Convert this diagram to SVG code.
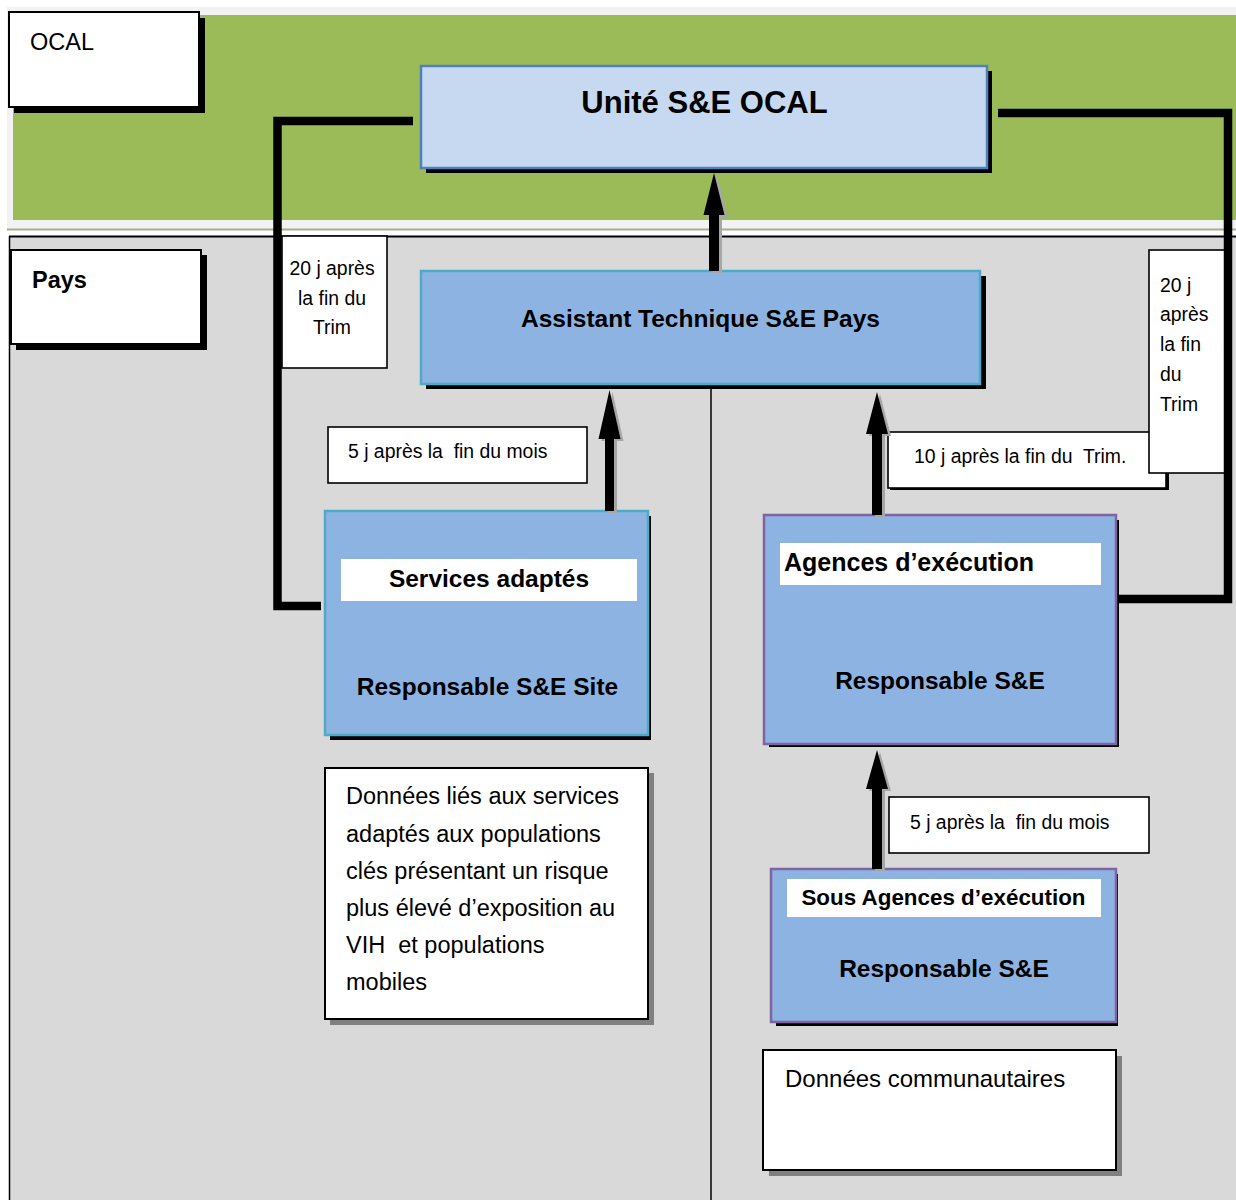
<svg xmlns="http://www.w3.org/2000/svg" width="1236" height="1200" viewBox="0 0 1236 1200">
<style>
text{font-family:"Liberation Sans",Arial,sans-serif;fill:#000;white-space:pre}
.b{font-weight:bold}
.t24{font-size:24.5px}
.lab{font-size:19.4px}
.dat{font-size:23.5px}
.sh{fill:#000}
.gsh{fill:#808080}
.wbox{fill:#fff;stroke:#000;stroke-width:2}
.lbox{fill:#fff;stroke:#000;stroke-width:1.6}
.blue{fill:#8db3e2;stroke-width:2.5}
.teal{stroke:#4bacc6}
.purp{stroke:#8064a2}
.bar{fill:#fff}
.arr{fill:#000}
.arrs{fill:#a6a6a6}
.conn{fill:none;stroke:#000;stroke-width:8.5}
</style>
<rect x="0" y="0" width="1236" height="1200" fill="#fff"/>
<g id="background">
<rect x="7" y="7" width="1229" height="222" fill="#f2f2f2"/>
<rect x="13" y="15" width="1223" height="205" fill="#9bbb59"/>
<line x1="7" y1="229.5" x2="1236" y2="229.5" stroke="#a5ad93" stroke-width="2"/>
<rect x="9" y="236" width="1227" height="964" fill="#d9d9d9"/>
<line x1="9" y1="236.5" x2="1236" y2="236.5" stroke="#000" stroke-width="1.8"/>
<line x1="9.5" y1="236" x2="9.5" y2="1200" stroke="#000" stroke-width="1.5"/>
<line x1="711" y1="237" x2="711" y2="1200" stroke="#000" stroke-width="1.5"/>
</g>
<g id="ocal-label">
<rect class="sh" x="14" y="18" width="191" height="95"/>
<rect class="wbox" x="9" y="12" width="190" height="95"/>
<text x="30" y="50" style="font-size:23.5px">OCAL</text>
</g>
<g id="pays-label">
<rect class="sh" x="16" y="255" width="191" height="95"/>
<rect class="wbox" x="11" y="250" width="190" height="94"/>
<text class="b" x="32" y="288" style="font-size:23.5px">Pays</text>
</g>
<g id="unite">
<rect class="sh" x="426" y="71" width="566" height="102"/>
<rect x="421" y="66" width="566" height="102" fill="#c6d9f1" stroke="#4f81bd" stroke-width="2.5"/>
<text class="b" x="704.5" y="113" text-anchor="middle" style="font-size:31px">Unité S&amp;E OCAL</text>
</g>
<g id="assistant">
<rect class="sh" x="426" y="276" width="560" height="113"/>
<rect class="blue teal" x="421" y="271" width="559" height="113"/>
<text class="b t24" x="700.5" y="327" text-anchor="middle">Assistant Technique S&amp;E Pays</text>
</g>
<g id="services">
<rect class="sh" x="330" y="516" width="321" height="224"/>
<rect class="blue teal" x="325" y="511" width="323" height="224"/>
<rect class="bar" x="341" y="559" width="296" height="42"/>
<text class="b t24" x="489" y="587" text-anchor="middle">Services adaptés</text>
<text class="b t24" x="487.5" y="695" text-anchor="middle">Responsable S&amp;E Site</text>
</g>
<g id="agences">
<rect class="sh" x="769" y="520" width="350" height="227"/>
<rect class="blue purp" x="764" y="515" width="352" height="229"/>
<rect class="bar" x="780" y="543" width="321" height="42"/>
<text class="b" x="784" y="571" style="font-size:25px">Agences d’exécution</text>
<text class="b t24" x="940" y="689" text-anchor="middle">Responsable S&amp;E</text>
</g>
<g id="sous-agences">
<rect class="sh" x="776" y="874" width="342" height="152"/>
<rect class="blue purp" x="771" y="869" width="345" height="153"/>
<rect class="bar" x="787" y="879" width="314" height="38"/>
<text class="b" x="943.5" y="905" text-anchor="middle" style="font-size:22.4px">Sous Agences d’exécution</text>
<text class="b t24" x="944" y="977" text-anchor="middle">Responsable S&amp;E</text>
</g>
<g id="donnees-services">
<rect class="gsh" x="330" y="773" width="324" height="252"/>
<rect class="wbox" x="325" y="768" width="323" height="251"/>
<text class="dat" x="346" y="804">Données liés aux services</text>
<text class="dat" x="346" y="841.5">adaptés aux populations</text>
<text class="dat" x="346" y="879">clés présentant un risque</text>
<text class="dat" x="346" y="916">plus élevé d’exposition au</text>
<text class="dat" x="346" y="953">VIH  et populations</text>
<text class="dat" x="346" y="990">mobiles</text>
</g>
<g id="donnees-communautaires">
<rect class="gsh" x="769" y="1056" width="353" height="120"/>
<rect class="wbox" x="763" y="1050" width="353" height="120"/>
<text x="785" y="1087" style="font-size:24px">Données communautaires</text>
</g>
<g id="labels">
<rect class="lbox" x="282" y="236" width="105" height="132"/>
<text class="lab" x="332" y="275" text-anchor="middle">20 j après</text>
<text class="lab" x="332" y="305" text-anchor="middle">la fin du</text>
<text class="lab" x="332" y="334" text-anchor="middle">Trim</text>
<rect class="lbox" x="328" y="427" width="259" height="56"/>
<text class="lab" x="348" y="458">5 j après la  fin du mois</text>
<rect class="sh" x="890" y="434" width="279" height="56"/>
<rect class="lbox" x="888" y="432" width="278" height="56"/>
<text class="lab" x="914" y="463">10 j après la fin du  Trim.</text>
<rect class="lbox" x="1149" y="250" width="78" height="223"/>
<text class="lab" x="1160" y="292">20 j</text>
<text class="lab" x="1160" y="321">après</text>
<text class="lab" x="1160" y="351">la fin</text>
<text class="lab" x="1160" y="381">du</text>
<text class="lab" x="1160" y="411">Trim</text>
<rect class="lbox" x="889" y="797" width="260" height="56"/>
<text class="lab" x="910" y="829">5 j après la  fin du mois</text>
</g>
<g id="connectors">
<path class="conn" d="M321,606 H277.5 V121 H413"/>
<path class="conn" d="M1118,599 H1228 V113 H998"/>
<path class="arrs" transform="translate(3,2)" d="M709,271 V215 H703.5 L714,173 L724.5,215 H719 V271 Z"/>
<path class="arr" d="M709,271 V215 H703.5 L714,173 L724.5,215 H719 V271 Z"/>
<path class="arrs" transform="translate(3,2)" d="M605,511 V439 H598.5 L609.5,390 L620.5,439 H614 V511 Z"/>
<path class="arr" d="M605,511 V439 H598.5 L609.5,390 L620.5,439 H614 V511 Z"/>
<path class="arrs" transform="translate(3,2)" d="M872,515 V434 H866 L877,392 L888,434 H882 V515 Z"/>
<path class="arr" d="M872,515 V434 H866 L877,392 L888,434 H882 V515 Z"/>
<path class="arrs" transform="translate(3,2)" d="M872,869 V789 H866 L877,750 L888,789 H882 V869 Z"/>
<path class="arr" d="M872,869 V789 H866 L877,750 L888,789 H882 V869 Z"/>
</g>
</svg>
